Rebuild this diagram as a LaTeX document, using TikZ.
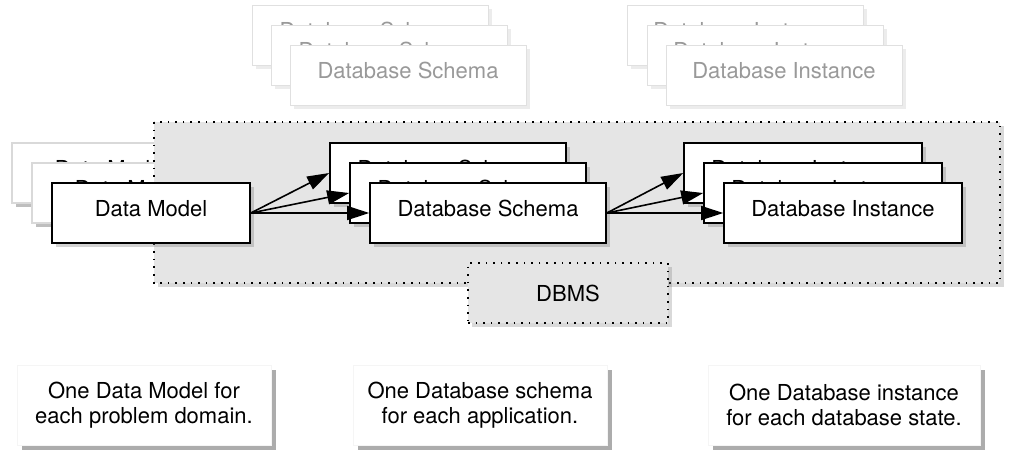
\documentclass[tikz,border=0pt]{standalone}
\usepackage{fontspec}
\setmainfont{TeX Gyre Heros}
\usetikzlibrary{shadows,arrows.meta}

\tikzset{
  box/.style={draw, line width=0.8pt, fill=white, minimum height=30pt, inner sep=0pt,
    text height=8pt, text depth=5pt,
    drop shadow={shadow xshift=1.8pt, shadow yshift=-1.8pt, opacity=0.35}},
  backbox/.style={box, draw=black!15, line width=0.6pt,
    drop shadow={shadow xshift=1.8pt, shadow yshift=-1.8pt, opacity=0.25}},
  ghostbox/.style={draw=black!12, fill=white, text=black!40, minimum width=118pt,
    minimum height=30pt, inner sep=0pt, text height=8pt, text depth=5pt,
    drop shadow={shadow xshift=1.8pt, shadow yshift=-1.8pt, opacity=0.15}},
  notebox/.style={draw=black!4, fill=white, align=center, minimum height=40pt, inner sep=0pt,
    drop shadow={shadow xshift=2.4pt, shadow yshift=-2.4pt, opacity=0.65}},
  region/.style={draw, fill=black!10, line width=0.8pt, dash pattern=on 0.8pt off 3pt,
    drop shadow={shadow xshift=1.8pt, shadow yshift=-1.8pt, opacity=0.3}},
  flow/.style={-{Triangle[length=11pt,width=7pt]}, line width=0.8pt}
}

\begin{document}
\begin{tikzpicture}[x=0.5pt, y=-0.5pt, font=\fontsize{11}{12.5}\selectfont]
    \useasboundingbox (0,0) rectangle (1012,462);

    % schemas and instances of other applications
    \node (gs1) at (370, 35) [ghostbox] {Database Schema};
    \node (gs2) at (389, 55) [ghostbox] {Database Schema};
    \node (gs3) at (408, 75) [ghostbox] {Database Schema};
    \node (gi1) at (745, 35) [ghostbox] {Database Instance};
    \node (gi2) at (765, 55) [ghostbox] {Database Instance};
    \node (gi3) at (784, 75) [ghostbox] {Database Instance};

    % other data models, behind the DBMS
    \node (dm1) at (111, 173) [backbox, minimum width=99pt] {Data Model};
    \node (dm2) at (131, 193) [backbox, minimum width=99pt] {Data Model};

    % DBMS area
    \draw [region] (154, 122) rectangle (1000, 283);
    \node (dbms) at (568, 293) [region, minimum width=100pt, minimum height=30pt] {DBMS};

    % data model
    \node (dm3) at (151, 213) [box, minimum width=99pt] {Data Model};

    % schemas
    \node (s1) at (448, 173) [box, minimum width=118pt] {Database Schema};
    \node (s2) at (468, 193) [box, minimum width=118pt] {Database Schema};
    \node (s3) at (488, 213) [box, minimum width=118pt] {Database Schema};

    % instances
    \node (i1) at (803, 173) [box, minimum width=119pt] {Database Instance};
    \node (i2) at (823, 193) [box, minimum width=119pt] {Database Instance};
    \node (i3) at (843, 213) [box, minimum width=119pt] {Database Instance};

    \draw [flow] (dm3.east) -- (s1.west);
    \draw [flow] (dm3.east) -- (s2.west);
    \draw [flow] (dm3.east) -- (s3.west);
    \draw [flow] (s3.east) -- (i1.west);
    \draw [flow] (s3.east) -- (i2.west);
    \draw [flow] (s3.east) -- (i3.west);

    % notes
    \node (n1) at (144, 405) [notebox, minimum width=127pt] {One Data Model for\\each problem domain.};
    \node (n2) at (480, 405) [notebox, minimum width=127pt] {One Database schema\\for each application.};
    \node (n3) at (844, 405) [notebox, minimum width=136pt] {One Database instance\\for each database state.};
\end{tikzpicture}
\end{document}
